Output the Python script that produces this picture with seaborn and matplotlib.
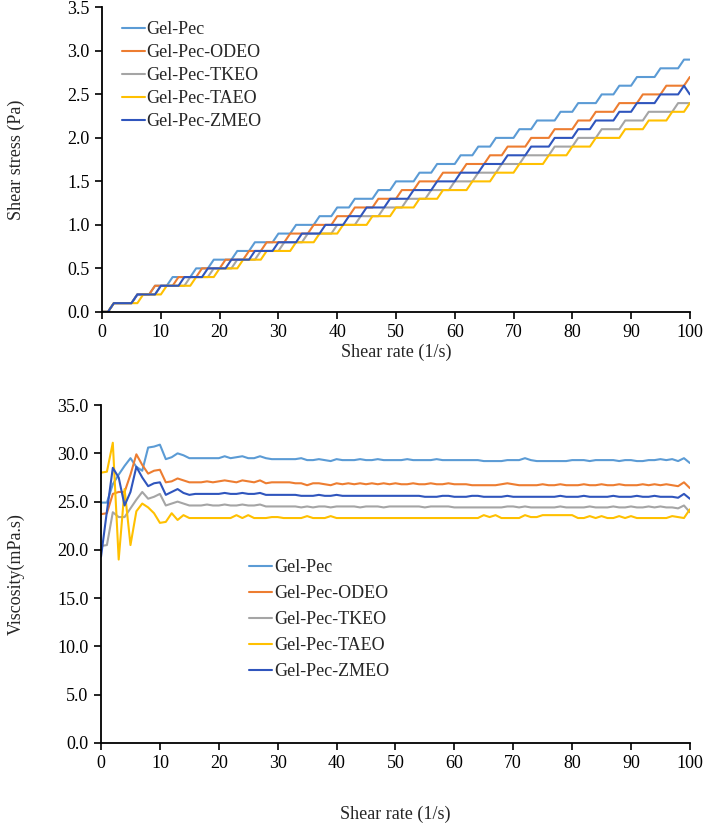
import matplotlib
matplotlib.use("Agg")
import matplotlib.pyplot as plt
from matplotlib.ticker import FormatStrFormatter, MultipleLocator
import seaborn as sns
import pandas as pd

# ---------------- data ----------------
shear_rate = list(range(0, 101))
series_names = ["Gel-Pec", "Gel-Pec-ODEO", "Gel-Pec-TKEO", "Gel-Pec-TAEO", "Gel-Pec-ZMEO"]
colors = ["#5B9BD5", "#ED7D31", "#A5A5A5", "#FFC000", "#2F55BD"]

stress_gel_pec = [
    0.0, 0.0, 0.1, 0.1, 0.1, 0.1, 0.2, 0.2, 0.2, 0.3,
    0.3, 0.3, 0.4, 0.4, 0.4, 0.4, 0.5, 0.5, 0.5, 0.6,
    0.6, 0.6, 0.6, 0.7, 0.7, 0.7, 0.8, 0.8, 0.8, 0.8,
    0.9, 0.9, 0.9, 1.0, 1.0, 1.0, 1.0, 1.1, 1.1, 1.1,
    1.2, 1.2, 1.2, 1.3, 1.3, 1.3, 1.3, 1.4, 1.4, 1.4,
    1.5, 1.5, 1.5, 1.5, 1.6, 1.6, 1.6, 1.7, 1.7, 1.7,
    1.7, 1.8, 1.8, 1.8, 1.9, 1.9, 1.9, 2.0, 2.0, 2.0,
    2.0, 2.1, 2.1, 2.1, 2.2, 2.2, 2.2, 2.2, 2.3, 2.3,
    2.3, 2.4, 2.4, 2.4, 2.4, 2.5, 2.5, 2.5, 2.6, 2.6,
    2.6, 2.7, 2.7, 2.7, 2.7, 2.8, 2.8, 2.8, 2.8, 2.9,
    2.9]
stress_odeo = [
    0.0, 0.0, 0.1, 0.1, 0.1, 0.1, 0.2, 0.2, 0.2, 0.3,
    0.3, 0.3, 0.3, 0.4, 0.4, 0.4, 0.4, 0.5, 0.5, 0.5,
    0.5, 0.6, 0.6, 0.6, 0.6, 0.7, 0.7, 0.7, 0.8, 0.8,
    0.8, 0.8, 0.9, 0.9, 0.9, 0.9, 1.0, 1.0, 1.0, 1.0,
    1.1, 1.1, 1.1, 1.2, 1.2, 1.2, 1.2, 1.3, 1.3, 1.3,
    1.3, 1.4, 1.4, 1.4, 1.5, 1.5, 1.5, 1.5, 1.6, 1.6,
    1.6, 1.6, 1.7, 1.7, 1.7, 1.7, 1.8, 1.8, 1.8, 1.9,
    1.9, 1.9, 1.9, 2.0, 2.0, 2.0, 2.0, 2.1, 2.1, 2.1,
    2.1, 2.2, 2.2, 2.2, 2.3, 2.3, 2.3, 2.3, 2.4, 2.4,
    2.4, 2.4, 2.5, 2.5, 2.5, 2.5, 2.6, 2.6, 2.6, 2.6,
    2.7]
stress_tkeo = [
    0.0, 0.0, 0.1, 0.1, 0.1, 0.1, 0.2, 0.2, 0.2, 0.2,
    0.3, 0.3, 0.3, 0.3, 0.3, 0.4, 0.4, 0.4, 0.4, 0.5,
    0.5, 0.5, 0.5, 0.6, 0.6, 0.6, 0.6, 0.7, 0.7, 0.7,
    0.7, 0.8, 0.8, 0.8, 0.8, 0.9, 0.9, 0.9, 0.9, 0.9,
    1.0, 1.0, 1.0, 1.0, 1.1, 1.1, 1.1, 1.1, 1.2, 1.2,
    1.2, 1.2, 1.3, 1.3, 1.3, 1.3, 1.4, 1.4, 1.4, 1.4,
    1.5, 1.5, 1.5, 1.5, 1.6, 1.6, 1.6, 1.6, 1.7, 1.7,
    1.7, 1.7, 1.8, 1.8, 1.8, 1.8, 1.8, 1.9, 1.9, 1.9,
    1.9, 2.0, 2.0, 2.0, 2.0, 2.1, 2.1, 2.1, 2.1, 2.2,
    2.2, 2.2, 2.2, 2.3, 2.3, 2.3, 2.3, 2.3, 2.4, 2.4,
    2.4]
stress_taeo = [
    0.0, 0.0, 0.1, 0.1, 0.1, 0.1, 0.1, 0.2, 0.2, 0.2,
    0.2, 0.3, 0.3, 0.3, 0.3, 0.3, 0.4, 0.4, 0.4, 0.4,
    0.5, 0.5, 0.5, 0.5, 0.6, 0.6, 0.6, 0.6, 0.7, 0.7,
    0.7, 0.7, 0.7, 0.8, 0.8, 0.8, 0.8, 0.9, 0.9, 0.9,
    0.9, 1.0, 1.0, 1.0, 1.0, 1.0, 1.1, 1.1, 1.1, 1.1,
    1.2, 1.2, 1.2, 1.2, 1.3, 1.3, 1.3, 1.3, 1.4, 1.4,
    1.4, 1.4, 1.4, 1.5, 1.5, 1.5, 1.5, 1.6, 1.6, 1.6,
    1.6, 1.7, 1.7, 1.7, 1.7, 1.7, 1.8, 1.8, 1.8, 1.8,
    1.9, 1.9, 1.9, 1.9, 2.0, 2.0, 2.0, 2.0, 2.0, 2.1,
    2.1, 2.1, 2.1, 2.2, 2.2, 2.2, 2.2, 2.3, 2.3, 2.3,
    2.4]
stress_zmeo = [
    0.0, 0.0, 0.1, 0.1, 0.1, 0.1, 0.2, 0.2, 0.2, 0.2,
    0.3, 0.3, 0.3, 0.3, 0.4, 0.4, 0.4, 0.4, 0.5, 0.5,
    0.5, 0.5, 0.6, 0.6, 0.6, 0.6, 0.7, 0.7, 0.7, 0.7,
    0.8, 0.8, 0.8, 0.8, 0.9, 0.9, 0.9, 0.9, 1.0, 1.0,
    1.0, 1.0, 1.1, 1.1, 1.1, 1.2, 1.2, 1.2, 1.2, 1.3,
    1.3, 1.3, 1.3, 1.4, 1.4, 1.4, 1.4, 1.5, 1.5, 1.5,
    1.5, 1.6, 1.6, 1.6, 1.6, 1.7, 1.7, 1.7, 1.7, 1.8,
    1.8, 1.8, 1.8, 1.9, 1.9, 1.9, 1.9, 2.0, 2.0, 2.0,
    2.0, 2.1, 2.1, 2.1, 2.2, 2.2, 2.2, 2.2, 2.3, 2.3,
    2.3, 2.4, 2.4, 2.4, 2.4, 2.5, 2.5, 2.5, 2.5, 2.6,
    2.5]

visc_gel_pec = [
    24.9, 24.9, 26.8, 27.8, 28.7, 29.5, 28.6, 28.2, 30.6, 30.7,
    30.9, 29.4, 29.6, 30.0, 29.8, 29.5, 29.5, 29.5, 29.5, 29.5,
    29.5, 29.7, 29.5, 29.6, 29.7, 29.5, 29.5, 29.7, 29.5, 29.4,
    29.4, 29.4, 29.4, 29.4, 29.5, 29.3, 29.3, 29.4, 29.3, 29.2,
    29.4, 29.3, 29.3, 29.3, 29.4, 29.3, 29.3, 29.4, 29.3, 29.3,
    29.3, 29.3, 29.4, 29.3, 29.3, 29.3, 29.3, 29.4, 29.3, 29.3,
    29.3, 29.3, 29.3, 29.3, 29.3, 29.2, 29.2, 29.2, 29.2, 29.3,
    29.3, 29.3, 29.5, 29.3, 29.2, 29.2, 29.2, 29.2, 29.2, 29.2,
    29.3, 29.3, 29.3, 29.2, 29.3, 29.3, 29.3, 29.3, 29.2, 29.3,
    29.3, 29.2, 29.2, 29.3, 29.3, 29.4, 29.3, 29.4, 29.2, 29.5,
    29.0]
visc_odeo = [
    23.7, 23.8, 25.8, 26.0, 26.0, 27.8, 29.9, 28.8, 27.9, 28.2,
    28.3, 27.0, 27.1, 27.4, 27.2, 27.0, 27.0, 27.0, 27.1, 27.0,
    27.1, 27.2, 27.1, 27.0, 27.2, 27.1, 27.0, 27.2, 26.9, 27.0,
    27.0, 27.0, 27.0, 26.9, 26.9, 26.7, 26.9, 26.9, 26.8, 26.7,
    26.9, 26.8, 26.9, 26.8, 26.9, 26.8, 26.9, 26.8, 26.9, 26.8,
    26.9, 26.8, 26.8, 26.9, 26.8, 26.8, 26.9, 26.8, 26.8, 26.9,
    26.8, 26.8, 26.8, 26.7, 26.7, 26.7, 26.7, 26.7, 26.8, 26.9,
    26.8, 26.7, 26.7, 26.7, 26.7, 26.8, 26.7, 26.7, 26.8, 26.7,
    26.7, 26.7, 26.8, 26.7, 26.7, 26.8, 26.7, 26.7, 26.8, 26.7,
    26.7, 26.7, 26.8, 26.7, 26.8, 26.7, 26.8, 26.7, 26.6, 27.0,
    26.4]
visc_tkeo = [
    20.4, 20.5, 23.9, 23.4, 23.4, 24.3, 25.2, 26.0, 25.3, 25.5,
    25.8, 24.6, 24.8, 25.0, 24.8, 24.6, 24.6, 24.6, 24.7, 24.6,
    24.6, 24.7, 24.6, 24.6, 24.7, 24.6, 24.6, 24.7, 24.5, 24.5,
    24.5, 24.5, 24.5, 24.5, 24.4, 24.5, 24.4, 24.5, 24.5, 24.4,
    24.5, 24.5, 24.5, 24.5, 24.4, 24.5, 24.5, 24.5, 24.4, 24.5,
    24.5, 24.5, 24.5, 24.5, 24.5, 24.4, 24.5, 24.5, 24.5, 24.5,
    24.4, 24.4, 24.4, 24.4, 24.4, 24.4, 24.4, 24.4, 24.4, 24.5,
    24.5, 24.4, 24.5, 24.4, 24.4, 24.4, 24.4, 24.4, 24.5, 24.4,
    24.4, 24.4, 24.4, 24.5, 24.4, 24.4, 24.4, 24.5, 24.4, 24.4,
    24.5, 24.4, 24.4, 24.5, 24.4, 24.5, 24.4, 24.4, 24.3, 24.6,
    23.9]
visc_taeo = [
    28.0, 28.1, 31.1, 19.0, 26.3, 20.5, 24.0, 24.8, 24.4, 23.8,
    22.8, 22.9, 23.8, 23.1, 23.6, 23.3, 23.3, 23.3, 23.3, 23.3,
    23.3, 23.3, 23.3, 23.6, 23.3, 23.6, 23.3, 23.3, 23.3, 23.4,
    23.4, 23.3, 23.3, 23.3, 23.3, 23.5, 23.3, 23.3, 23.3, 23.5,
    23.3, 23.3, 23.3, 23.3, 23.3, 23.3, 23.3, 23.3, 23.3, 23.3,
    23.3, 23.3, 23.3, 23.3, 23.3, 23.3, 23.3, 23.3, 23.3, 23.3,
    23.3, 23.3, 23.3, 23.3, 23.3, 23.6, 23.4, 23.6, 23.3, 23.3,
    23.3, 23.3, 23.6, 23.4, 23.4, 23.6, 23.6, 23.6, 23.6, 23.6,
    23.6, 23.3, 23.3, 23.5, 23.3, 23.5, 23.3, 23.3, 23.5, 23.3,
    23.5, 23.3, 23.3, 23.3, 23.3, 23.3, 23.3, 23.5, 23.4, 23.3,
    24.2]
visc_zmeo = [
    19.3, 24.0, 28.5, 27.5, 24.6, 26.0, 28.6, 27.5, 26.6, 26.9,
    27.0, 25.7, 26.0, 26.3, 25.9, 25.7, 25.8, 25.8, 25.8, 25.8,
    25.8, 25.9, 25.8, 25.8, 25.9, 25.8, 25.8, 25.9, 25.7, 25.7,
    25.7, 25.7, 25.7, 25.7, 25.6, 25.6, 25.6, 25.7, 25.6, 25.6,
    25.7, 25.6, 25.6, 25.6, 25.6, 25.6, 25.6, 25.6, 25.6, 25.6,
    25.6, 25.6, 25.6, 25.6, 25.6, 25.5, 25.5, 25.5, 25.6, 25.6,
    25.5, 25.5, 25.5, 25.6, 25.6, 25.5, 25.5, 25.5, 25.5, 25.6,
    25.5, 25.5, 25.5, 25.5, 25.5, 25.5, 25.5, 25.5, 25.6, 25.5,
    25.5, 25.5, 25.6, 25.5, 25.5, 25.5, 25.5, 25.6, 25.5, 25.5,
    25.5, 25.6, 25.5, 25.5, 25.6, 25.5, 25.5, 25.5, 25.4, 25.8,
    25.3]

stress_series = [stress_gel_pec, stress_odeo, stress_tkeo, stress_taeo, stress_zmeo]
visc_series = [visc_gel_pec, visc_odeo, visc_tkeo, visc_taeo, visc_zmeo]

rows = []
for name, st, vi in zip(series_names, stress_series, visc_series):
    for r, s, v in zip(shear_rate, st, vi):
        rows.append({"rate": r, "stress": s, "visc": v, "sample": name})
df = pd.DataFrame(rows)
palette = dict(zip(series_names, colors))

# ---------------- style ----------------
sns.set_style("ticks")
plt.rcParams["font.family"] = ["Liberation Serif", "DejaVu Serif"]
plt.rcParams["font.size"] = 13

fig = plt.figure(figsize=(7.09, 8.25), dpi=100)
ax1 = fig.add_axes([0.144, 0.622, 0.829, 0.369])
ax2 = fig.add_axes([0.1425, 0.0994, 0.8305, 0.4096])

for ax, ycol in [(ax1, "stress"), (ax2, "visc")]:
    sns.lineplot(data=df, x="rate", y=ycol, hue="sample", hue_order=series_names,
                 palette=palette, linewidth=1.5, ax=ax, estimator=None, sort=False)
    ax.set_xlim(0, 100)
    ax.xaxis.set_major_locator(MultipleLocator(10))
    ax.yaxis.set_major_formatter(FormatStrFormatter("%.1f"))
    for sp in ["top", "right"]:
        ax.spines[sp].set_visible(False)
    for sp in ["left", "bottom"]:
        ax.spines[sp].set_color("black")
        ax.spines[sp].set_linewidth(1.3)
    ax.tick_params(axis="both", direction="out", length=5, width=1.2,
                   color="black", labelsize=13, labelcolor="black", pad=4)

ax1.set_ylim(0, 3.5)
ax1.yaxis.set_major_locator(MultipleLocator(0.5))
ax2.set_ylim(0, 35)
ax2.yaxis.set_major_locator(MultipleLocator(5))

ax1.set_xlabel("Shear rate (1/s)", fontsize=13, labelpad=2)
ax1.set_ylabel("Shear stress (Pa)", fontsize=13)
ax2.set_xlabel("Shear rate (1/s)", fontsize=13, labelpad=24)
ax2.set_ylabel("Viscosity(mPa.s)", fontsize=13)
# y labels at the same figure x, centred on each axes
ax1.yaxis.set_label_coords(0.035, (1 - 160 / 825), transform=fig.transFigure)
ax2.yaxis.set_label_coords(0.035, (1 - 574 / 825), transform=fig.transFigure)

ax1.legend(title=None, loc="upper left", bbox_to_anchor=(0.034, 0.955), frameon=False,
           fontsize=13, handlelength=1.25, handletextpad=0.1, labelspacing=0.33,
           borderpad=0, borderaxespad=0)
ax2.legend(title=None, loc="upper left", bbox_to_anchor=(0.252, 0.545), frameon=False,
           fontsize=13, handlelength=1.25, handletextpad=0.1, labelspacing=0.5,
           borderpad=0, borderaxespad=0)

fig.savefig("out.png", dpi=100)
